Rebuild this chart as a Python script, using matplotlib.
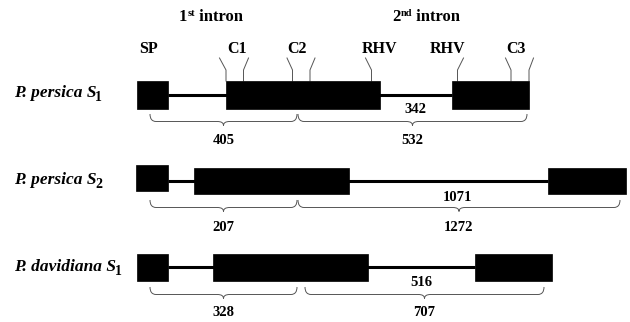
import matplotlib
matplotlib.use("Agg")
import matplotlib.pyplot as plt
from matplotlib.patches import Rectangle, PathPatch
from matplotlib.path import Path

# ---------------- data (diagram units = pixels of the 630x322 canvas) -------------
gene_names = ["P. persica S", "P. persica S", "P. davidiana S"]
gene_subs = ["1", "2", "1"]
gene_y = [93, 180, 267]                     # row centre (label)
intron_y = [95, 181, 267]
exon_x = [[(137, 168), (226, 380), (452, 529)],
          [(136, 168), (194, 349), (548, 626)],
          [(137, 168), (213, 368), (475, 552)]]
exon_y = [[(81, 109), (81, 109), (81, 109)],
          [(165, 191), (168, 194), (168, 194)],
          [(254, 281), (254, 281), (254, 281)]]
intron2_len = ["342", "1071", "516"]
intron2_lab_xy = [(415, 109), (457, 197), (421, 282)]
brace_top = [114, 200, 287]
braces = [[(150, 297, "405"), (298, 527, "532")],
          [(150, 297, "207"), (298, 620, "1272")],
          [(150, 297, "328"), (305, 544, "707")]]
brace_lab_y = [140, 227, 312]

motif_names = ["SP", "C1", "C2", "RHV", "RHV", "C3"]
motif_lab_x = [149, 237, 297, 379, 447, 516]
# connector lines: (x on exon top, x at upper end)
motif_lines = [(226, 219.5), (243.5, 248.5), (292.5, 287), (310, 315),
               (371.5, 365.5), (457.5, 463.5), (511, 505.5), (529, 533.5)]
intron_titles = [("1", "st", " intron", 211), ("2", "nd", " intron", 426)]

W, H = 630, 322
fig = plt.figure(figsize=(W / 100, H / 100), dpi=100)
ax = fig.add_axes([0, 0, 1, 1])
ax.set_xlim(0, W)
ax.set_ylim(H, 0)
ax.axis("off")

SERIF = ["Liberation Serif", "DejaVu Serif"]
renderer = fig.canvas.get_renderer()


def seg_text(x, y, segs, ha="left"):
    """segs: list of (text, size, dy, italic, gap_before)"""
    arts = []
    for s, size, dy, it, gap in segs:
        t = ax.text(0, y + dy, s, fontsize=size, fontweight="bold",
                    style="italic" if it else "normal", family=SERIF,
                    ha="left", va="center")
        arts.append((t, gap))
    widths = [a.get_window_extent(renderer).width + g for a, g in arts]
    total = sum(widths)
    cx = x - total / 2 if ha == "center" else x
    for (a, g), w in zip(arts, widths):
        a.set_x(cx + g)
        cx += w


# intron titles
for a, sup, rest, cx in intron_titles:
    seg_text(cx, 17, [(a, 12, 0, False, 0), (sup, 7.5, -4, False, 0),
                      (rest, 12, 0, False, 0)], ha="center")

# motif labels
for name, x in zip(motif_names, motif_lab_x):
    ax.text(x, 49, name, fontsize=11.5, fontweight="bold", family=SERIF,
            ha="center", va="center")

for xb, xt in motif_lines:
    ax.plot([xt, xb, xb], [58, 70, 81], color="#555555", lw=0.7,
            solid_joinstyle="miter")

# genes
for i in range(3):
    seg_text(14, gene_y[i], [(gene_names[i], 12.5, 0, True, 0),
                             (gene_subs[i], 10, 4.5, False, -1.5)])
    ex = exon_x[i]
    ax.plot([ex[0][1], ex[-1][0]], [intron_y[i], intron_y[i]],
            color="black", lw=2.2, zorder=1, solid_capstyle="butt")
    for (x0, x1), (y0, y1) in zip(ex, exon_y[i]):
        ax.add_patch(Rectangle((x0, y0), x1 - x0, y1 - y0,
                               facecolor="black", edgecolor="black",
                               lw=0.5, zorder=2))
    lx, ly = intron2_lab_xy[i]
    ax.text(lx, ly, intron2_len[i], fontsize=10.5, fontweight="bold",
            family=SERIF, ha="center", va="center")
    # braces
    yt = brace_top[i]
    h, tip, r = 7.5, 4, 6
    for x0, x1, lab in braces[i]:
        xm = (x0 + x1) / 2
        yl = yt + h
        verts = [(x0, yt), (x0, yl), (x0 + r, yl),
                 (xm - r, yl),
                 (xm, yl), (xm, yl + tip),
                 (xm, yl), (xm + r, yl),
                 (x1 - r, yl),
                 (x1, yl), (x1, yt)]
        codes = [Path.MOVETO, Path.CURVE3, Path.CURVE3,
                 Path.LINETO,
                 Path.CURVE3, Path.CURVE3,
                 Path.CURVE3, Path.CURVE3,
                 Path.LINETO,
                 Path.CURVE3, Path.CURVE3]
        ax.add_patch(PathPatch(Path(verts, codes), facecolor="none",
                               edgecolor="#555555", lw=0.7))
        ax.text(xm, brace_lab_y[i], lab, fontsize=10.5, fontweight="bold",
                family=SERIF, ha="center", va="center")

fig.savefig("out.png", dpi=100)
